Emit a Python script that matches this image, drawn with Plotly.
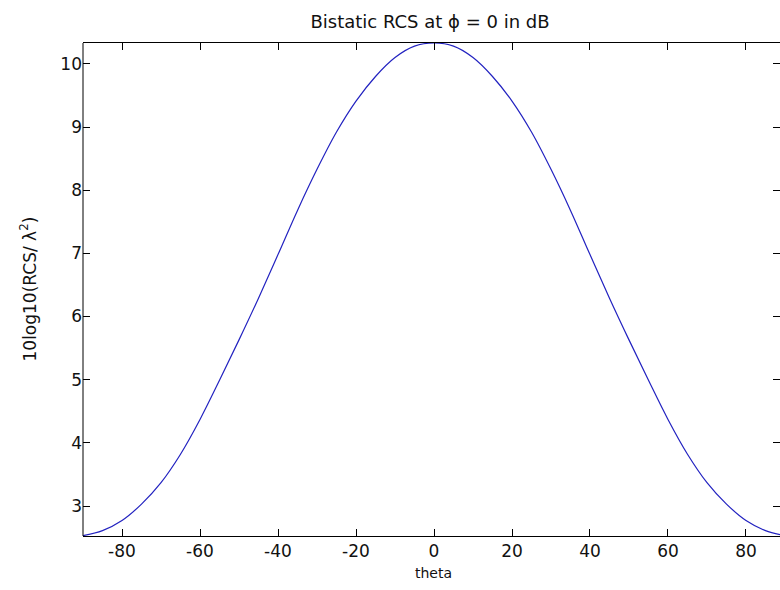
import plotly.graph_objects as go

theta = [-90, -85, -80, -75, -70, -65, -60, -55, -50, -45, -40, -35, -30, -25, -20, -15, -10, -5,
         0, 5, 10, 15, 20, 25, 30, 35, 40, 45, 50, 55, 60, 65, 70, 75, 80, 85, 90]
rcs_db = [2.53, 2.61, 2.77, 3.03, 3.37, 3.82, 4.37, 4.99, 5.63, 6.29, 6.98, 7.68, 8.33, 8.92, 9.41, 9.80, 10.10, 10.28,
          10.33, 10.28, 10.10, 9.80, 9.41, 8.92, 8.33, 7.68, 6.98, 6.29, 5.63, 4.99, 4.37, 3.82, 3.37, 3.03, 2.77, 2.61, 2.53]
x_ticks = [-80, -60, -40, -20, 0, 20, 40, 60, 80]
x_tick_labels = ["-80", "-60", "-40", "-20", "0", "20", "40", "60", "80"]
y_ticks = [3, 4, 5, 6, 7, 8, 9, 10]

FONT = "DejaVu Sans, Arial, sans-serif"

fig = go.Figure()
fig.add_trace(go.Scatter(x=theta, y=rcs_db, mode="lines",
                         line=dict(color="#2222c0", width=1.2, shape="spline", smoothing=1.0),
                         hoverinfo="skip", showlegend=False))

fig.update_layout(
    width=780, height=590,
    margin=dict(l=83, r=0, t=43, b=54),
    paper_bgcolor="white", plot_bgcolor="white",
    font=dict(family=FONT, size=16, color="#111"),
    title=dict(text="Bistatic RCS at ϕ = 0 in dB", x=(430 - 83) / 697, xref="paper", xanchor="center",
               y=1 - 22 / 590, yref="container", yanchor="middle",
               font=dict(family=FONT, size=18, color="#111")),
    showlegend=False,
)
fig.update_xaxes(range=[-90, 88.72], tickvals=x_ticks, ticktext=x_tick_labels, ticks="inside", ticklen=7,
                 tickwidth=1, tickcolor="black", showline=True, linecolor="black", linewidth=1, mirror="ticks",
                 showgrid=False, zeroline=False, tickfont=dict(size=17, family=FONT, color="#111"))
fig.update_yaxes(range=[2.525, 10.33], tickvals=y_ticks, ticks="inside", ticklen=7, tickwidth=1,
                 tickcolor="black", showline=False, mirror="ticks",
                 showgrid=False, zeroline=False, tickfont=dict(size=17, family=FONT, color="#111"))
fig.add_shape(type="line", xref="paper", yref="paper", x0=0, x1=0, y0=0, y1=1,
              line=dict(color="black", width=1))
fig.add_annotation(text="theta", xref="paper", yref="paper", x=(433 - 83) / 697, y=-(573 - 536) / 493,
                   xanchor="center", yanchor="middle", showarrow=False,
                   font=dict(size=14, family=FONT, color="#111"))
fig.add_annotation(text="10log10(RCS/ λ<sup>2</sup>)", xref="paper", yref="paper",
                   x=(28 - 83) / 697, y=0.5, xanchor="center", yanchor="middle", textangle=-90,
                   showarrow=False, font=dict(size=17, family=FONT, color="#111"))

fig.write_html("out.html")
